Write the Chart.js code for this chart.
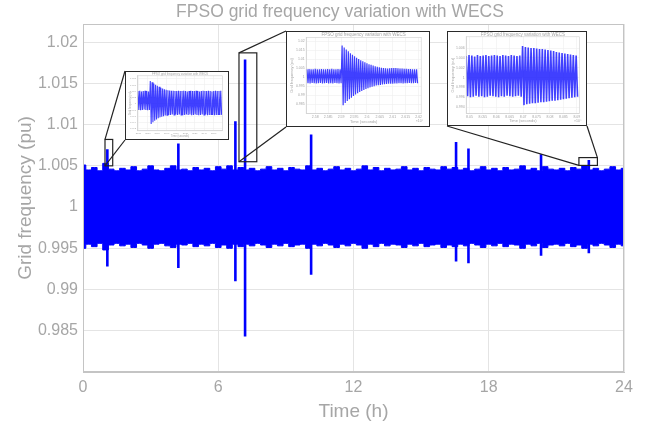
<!DOCTYPE html>
<html>
<head>
<meta charset="utf-8">
<script src="https://cdn.jsdelivr.net/npm/chart.js@4.4.1/dist/chart.umd.min.js"></script>
<style>
  html, body { margin: 0; padding: 0; background: #fff; }
  #wrap { position: relative; width: 649px; height: 427px; }
  #main { position: absolute; left: 0; top: 0; }
  .inset { position: absolute; background: #fff; border: 1.5px solid #2a2a2a; box-sizing: border-box; }
  .inset canvas { display: block; }
</style>
</head>
<body>
<div id="wrap">
  <canvas id="main" width="649" height="427"></canvas>
</div>
<script>
const GRAY = '#a6a6a6';
const FONT = '"Liberation Sans", Arial, Helvetica, sans-serif';
const BLUE = '#0000ff';

// ---- main plot: 24 h of grid frequency (pu) ----
const hourStep = 0.25;
const upperEnv = [
  1.0051, 1.0045, 1.0048, 1.0044, 1.0053, 1.0046, 1.0044, 1.0047,
  1.0045, 1.0049, 1.0044, 1.0046, 1.0050, 1.0045, 1.0044, 1.0047,
  1.0050, 1.0045, 1.0046, 1.0044, 1.0048, 1.0045, 1.0047, 1.0044,
  1.0049, 1.0046, 1.0050, 1.0045, 1.0048, 1.0045, 1.0047, 1.0044,
  1.0046, 1.0049, 1.0045, 1.0047, 1.0044, 1.0048, 1.0046, 1.0045,
  1.0050, 1.0045, 1.0047, 1.0044, 1.0046, 1.0049, 1.0045, 1.0047,
  1.0044, 1.0046, 1.0050, 1.0045, 1.0048, 1.0044, 1.0047, 1.0045,
  1.0046, 1.0049, 1.0045, 1.0047, 1.0044, 1.0048, 1.0046, 1.0045,
  1.0049, 1.0046, 1.0048, 1.0045, 1.0047, 1.0044, 1.0046, 1.0049,
  1.0045, 1.0047, 1.0044, 1.0048, 1.0045, 1.0046, 1.0050, 1.0045,
  1.0047, 1.0044, 1.0049, 1.0046, 1.0045, 1.0047, 1.0044, 1.0048,
  1.0046, 1.0050, 1.0045, 1.0047, 1.0044, 1.0046, 1.0049, 1.0045,
  1.0047
];
const lowerEnv = [
  0.9950, 0.9955, 0.9952, 0.9956, 0.9948, 0.9954, 0.9956, 0.9953,
  0.9955, 0.9951, 0.9956, 0.9954, 0.9950, 0.9955, 0.9956, 0.9953,
  0.9951, 0.9955, 0.9954, 0.9956, 0.9952, 0.9955, 0.9953, 0.9956,
  0.9951, 0.9954, 0.9950, 0.9955, 0.9952, 0.9955, 0.9953, 0.9956,
  0.9954, 0.9951, 0.9955, 0.9953, 0.9956, 0.9952, 0.9954, 0.9955,
  0.9950, 0.9955, 0.9953, 0.9956, 0.9954, 0.9951, 0.9955, 0.9953,
  0.9956, 0.9954, 0.9950, 0.9955, 0.9952, 0.9956, 0.9953, 0.9955,
  0.9954, 0.9951, 0.9955, 0.9953, 0.9956, 0.9952, 0.9954, 0.9955,
  0.9951, 0.9954, 0.9952, 0.9955, 0.9953, 0.9956, 0.9954, 0.9951,
  0.9955, 0.9953, 0.9956, 0.9952, 0.9955, 0.9954, 0.9950, 0.9955,
  0.9953, 0.9956, 0.9951, 0.9954, 0.9955, 0.9953, 0.9956, 0.9952,
  0.9954, 0.9950, 0.9955, 0.9953, 0.9956, 0.9954, 0.9951, 0.9955,
  0.9953
];
const spikeHours = [1.08, 4.23, 6.76, 7.19, 10.12, 16.55, 17.10, 20.32, 22.44];
const spikeHigh  = [1.0070, 1.0077, 1.0104, 1.0179, 1.0088, 1.0079, 1.0071, 1.0064, 1.0057];
const spikeLow   = [0.9928, 0.9926, 0.9910, 0.9843, 0.9918, 0.9934, 0.9932, 0.9941, 0.9944];
const xTicks = [0, 6, 12, 18, 24];
const yTicks = [0.985, 0.99, 0.995, 1, 1.005, 1.01, 1.015, 1.02];

// zoomed windows (data units) and which corners link to the inset boxes
const zoomWins = [
  { t0: 0.976, t1: 1.318, lo: 1.0050, hi: 1.0082, links: [['TL', 'TL'], ['BL', 'BL']] },
  { t0: 6.92,  t1: 7.71,  lo: 1.0055, hi: 1.0187, links: [['TL', 'TL'], ['BL', 'BL']] },
  { t0: 22.0,  t1: 22.82, lo: 1.00505, hi: 1.0060, links: [['BL', 'BL'], ['TR', 'BR']] }
];

// ---- inset plots: peak / trough of each oscillation cycle ----
const inset1Peaks = [
  1.0040, 1.0041, 1.0039, 1.0040, 1.0041, 1.0040, 1.0039,
  1.0072, 1.0068, 1.0064, 1.0060, 1.0057, 1.0054, 1.0051, 1.0048,
  1.0046, 1.0044, 1.0043, 1.0042, 1.0041, 1.0041, 1.0040, 1.0040,
  1.0041, 1.0040, 1.0040, 1.0041, 1.0040, 1.0039, 1.0040, 1.0041,
  1.0040, 1.0040, 1.0041, 1.0040, 1.0039, 1.0040, 1.0041, 1.0040,
  1.0040, 1.0041, 1.0040, 1.0039, 1.0040, 1.0041, 1.0040, 1.0040,
  1.0041
];
const inset1Troughs = [
  0.9980, 0.9979, 0.9980, 0.9981, 0.9980, 0.9979, 0.9980,
  0.9935, 0.9940, 0.9945, 0.9949, 0.9953, 0.9956, 0.9958, 0.9960,
  0.9962, 0.9963, 0.9964, 0.9964, 0.9965, 0.9964, 0.9965, 0.9964,
  0.9965, 0.9964, 0.9963, 0.9964, 0.9965, 0.9964, 0.9965, 0.9963,
  0.9964, 0.9965, 0.9964, 0.9963, 0.9964, 0.9965, 0.9964, 0.9965,
  0.9963, 0.9964, 0.9965, 0.9964, 0.9963, 0.9964, 0.9965, 0.9964,
  0.9964
];
const inset1XTicks = [3870, 3880, 3890, 3900, 3910, 3920, 3930, 3940, 3950];
const inset1YTicks = [0.992, 0.994, 0.996, 0.998, 1, 1.002, 1.004, 1.006, 1.008];

const inset2Peaks = [
  1.0046, 1.0047, 1.0045, 1.0046, 1.0048, 1.0046, 1.0045, 1.0047,
  1.0046, 1.0045, 1.0047, 1.0046, 1.0048, 1.0046, 1.0045, 1.0047, 1.0046,
  1.0178, 1.0166, 1.0155, 1.0145, 1.0135, 1.0126, 1.0118, 1.0110,
  1.0103, 1.0096, 1.0090, 1.0084, 1.0079, 1.0074, 1.0070, 1.0066,
  1.0062, 1.0059, 1.0056, 1.0054, 1.0052, 1.0051, 1.0050, 1.0051,
  1.0052, 1.0053, 1.0052, 1.0051, 1.0050, 1.0049, 1.0048, 1.0048,
  1.0047, 1.0047, 1.0046, 1.0046, 1.0046
];
const inset2Troughs = [
  0.9968, 0.9967, 0.9969, 0.9968, 0.9967, 0.9968, 0.9969, 0.9967,
  0.9968, 0.9969, 0.9967, 0.9968, 0.9967, 0.9969, 0.9968, 0.9967, 0.9968,
  0.9846, 0.9858, 0.9869, 0.9879, 0.9888, 0.9897, 0.9905, 0.9912,
  0.9919, 0.9925, 0.9931, 0.9936, 0.9941, 0.9945, 0.9949, 0.9952,
  0.9955, 0.9957, 0.9959, 0.9961, 0.9963, 0.9964, 0.9965, 0.9966,
  0.9966, 0.9967, 0.9967, 0.9968, 0.9968, 0.9967, 0.9968, 0.9968,
  0.9969, 0.9968, 0.9968, 0.9969, 0.9968
];
const inset2XTicks = [2.58, 2.585, 2.59, 2.595, 2.6, 2.605, 2.61, 2.615, 2.62];

const inset3Peaks = [
  1.0044, 1.0046, 1.0045, 1.0043, 1.0046, 1.0044, 1.0045, 1.0046, 1.0044, 1.0045,
  1.0046, 1.0045, 1.0044, 1.0046, 1.0045, 1.0044, 1.0046, 1.0045, 1.0044, 1.0045,
  1.0064, 1.0062, 1.0061, 1.0060, 1.0060, 1.0059, 1.0058, 1.0058, 1.0057, 1.0056,
  1.0055, 1.0054, 1.0052, 1.0051, 1.0050, 1.0049, 1.0048, 1.0047, 1.0046, 1.0045
];
const inset3Troughs = [
  0.9962, 0.9960, 0.9961, 0.9963, 0.9961, 0.9962, 0.9960, 0.9961, 0.9963, 0.9962,
  0.9961, 0.9960, 0.9962, 0.9961, 0.9963, 0.9962, 0.9961, 0.9962, 0.9963, 0.9961,
  0.9944, 0.9946, 0.9947, 0.9948, 0.9948, 0.9949, 0.9950, 0.9950, 0.9951, 0.9952,
  0.9953, 0.9953, 0.9954, 0.9955, 0.9956, 0.9957, 0.9958, 0.9959, 0.9960, 0.9961
];
const inset3XTicks = [8.05, 8.055, 8.06, 8.065, 8.07, 8.075, 8.08, 8.085, 8.09];
const inset3YTicks = [0.994, 0.996, 0.998, 1, 1.002, 1.004, 1.006];

const TITLE = 'FPSO grid frequency variation with WECS';
const fmt = v => String(Number(v.toFixed(4)));

// inset boxes on the page (outer border box)
const insetBoxes = [
  { left: 125, top: 71, width: 104, height: 69 },
  { left: 286, top: 31, width: 144, height: 96 },
  { left: 447, top: 31, width: 140, height: 95 }
];

// ---------------- main chart ----------------
const envHours = upperEnv.map((_, i) => i * hourStep);
const spikePts = [];
spikeHours.forEach((t, i) => {
  spikePts.push({ x: t, y: spikeLow[i] }, { x: t, y: spikeHigh[i] }, { x: t, y: null });
});

const mainDecor = {
  id: 'mainDecor',
  afterDraw(chart) {
    const { ctx, chartArea: a, scales: { x, y } } = chart;
    ctx.save();
    ctx.strokeStyle = '#c4c4c4';
    ctx.lineWidth = 1;
    ctx.strokeRect(a.left + 0.5, a.top + 0.5, a.right - a.left - 1, a.bottom - a.top - 1);

    ctx.strokeStyle = '#222';
    ctx.lineWidth = 1.2;
    zoomWins.forEach((w, i) => {
      const l = x.getPixelForValue(w.t0), r = x.getPixelForValue(w.t1);
      const tp = y.getPixelForValue(w.hi), bt = y.getPixelForValue(w.lo);
      ctx.strokeRect(l, tp, r - l, bt - tp);
      const rc = { TL: [l, tp], BL: [l, bt], TR: [r, tp], BR: [r, bt] };
      const b = insetBoxes[i];
      const ic = {
        TL: [b.left, b.top], BL: [b.left, b.top + b.height],
        TR: [b.left + b.width, b.top], BR: [b.left + b.width, b.top + b.height]
      };
      w.links.forEach(([from, to]) => {
        ctx.beginPath();
        ctx.moveTo(rc[from][0], rc[from][1]);
        ctx.lineTo(ic[to][0], ic[to][1]);
        ctx.stroke();
      });
    });

    ctx.fillStyle = GRAY;
    ctx.font = '17.5px ' + FONT;
    ctx.textAlign = 'center';
    ctx.textBaseline = 'middle';
    ctx.fillText(TITLE, 340, 12);
    ctx.restore();
  }
};

new Chart(document.getElementById('main'), {
  type: 'line',
  data: {
    datasets: [
      {
        data: envHours.map((t, i) => ({ x: t, y: lowerEnv[i] })),
        borderColor: BLUE, backgroundColor: BLUE, borderWidth: 1,
        pointRadius: 0, stepped: 'middle', fill: false
      },
      {
        data: envHours.map((t, i) => ({ x: t, y: upperEnv[i] })),
        borderColor: BLUE, backgroundColor: BLUE, borderWidth: 1,
        pointRadius: 0, stepped: 'middle', fill: '-1'
      },
      {
        data: spikePts,
        borderColor: BLUE, borderWidth: 2.6, pointRadius: 0,
        spanGaps: false, fill: false
      }
    ]
  },
  options: {
    responsive: false,
    animation: false,
    devicePixelRatio: 1,
    layout: { padding: { left: 0, right: 25, top: 24, bottom: 0 } },
    plugins: { legend: { display: false }, tooltip: { enabled: false } },
    scales: {
      x: {
        type: 'linear', min: 0, max: 24,
        afterBuildTicks: s => { s.ticks = xTicks.map(v => ({ value: v })); },
        afterFit: s => { s.height = 55; },
        ticks: { color: GRAY, font: { family: FONT, size: 16 }, padding: 6, maxRotation: 0, autoSkip: false },
        grid: { color: '#e4e4e4', drawTicks: false },
        border: { color: '#c4c4c4' },
        title: { display: true, text: 'Time (h)', color: GRAY, font: { family: FONT, size: 19 }, padding: { top: 0, bottom: 4 } }
      },
      y: {
        type: 'linear', min: 0.98, max: 1.0222,
        afterBuildTicks: s => { s.ticks = yTicks.map(v => ({ value: v })); },
        afterFit: s => { s.width = 83; },
        ticks: { color: GRAY, font: { family: FONT, size: 16 }, padding: 5, autoSkip: false, callback: v => fmt(v) },
        grid: { color: '#e4e4e4', drawTicks: false },
        border: { color: '#c4c4c4' },
        title: { display: true, text: 'Grid frequency (pu)', color: GRAY, font: { family: FONT, size: 19 }, padding: { top: 14, bottom: 0 } }
      }
    }
  },
  plugins: [mainDecor]
});

// ---------------- insets ----------------
function makeInset(box, o) {
  const div = document.createElement('div');
  div.className = 'inset';
  Object.assign(div.style, { left: box.left + 'px', top: box.top + 'px', width: box.width + 'px', height: box.height + 'px' });
  const cv = document.createElement('canvas');
  cv.width = box.width - 3;
  cv.height = box.height - 3;
  div.appendChild(cv);
  document.getElementById('wrap').appendChild(div);

  const pts = [];
  o.peaks.forEach((p, i) => {
    const t = o.t0 + i * o.dt;
    pts.push({ x: t, y: p }, { x: t + o.dt / 2, y: o.troughs[i] });
  });

  const deco = {
    id: 'insetDeco',
    afterDraw(chart) {
      const { ctx, chartArea: a } = chart;
      ctx.save();
      ctx.strokeStyle = '#cfcfcf';
      ctx.lineWidth = 0.6;
      ctx.strokeRect(a.left, a.top, a.right - a.left, a.bottom - a.top);
      ctx.fillStyle = GRAY;
      ctx.textAlign = 'center';
      ctx.textBaseline = 'middle';
      ctx.font = o.titleSize + 'px ' + FONT;
      ctx.fillText(TITLE, (a.left + a.right) / 2, a.top - o.titleSize * 0.55);
      if (o.exp) {
        ctx.font = o.tickSize + 'px ' + FONT;
        ctx.textAlign = 'right';
        ctx.fillText(o.exp, a.right + 2, a.bottom + o.tickSize * 2.2);
      }
      ctx.restore();
    }
  };

  new Chart(cv, {
    type: 'line',
    data: {
      datasets: [{
        data: pts, borderColor: 'rgba(30,30,255,0.85)', borderWidth: o.lw,
        pointRadius: 0, tension: 0, fill: false
      }]
    },
    options: {
      responsive: false,
      animation: false,
      devicePixelRatio: 1,
      layout: { padding: { left: 0, right: o.padR, top: o.padT, bottom: 0 } },
      plugins: { legend: { display: false }, tooltip: { enabled: false } },
      scales: {
        x: {
          type: 'linear', min: o.xmin, max: o.xmax,
          afterBuildTicks: s => { s.ticks = o.xTicks.map(v => ({ value: v })); },
          afterFit: s => { s.height = o.padB; },
          ticks: { color: GRAY, font: { family: FONT, size: o.tickSize }, padding: 1.5, maxRotation: 0, autoSkip: false, callback: v => fmt(v) },
          grid: { color: '#eeeeee', lineWidth: 0.6, drawTicks: false },
          border: { color: '#cfcfcf', width: 0.6 },
          title: { display: true, text: 'Time (seconds)', color: GRAY, font: { family: FONT, size: o.labelSize }, padding: { top: 0, bottom: 0.5 } }
        },
        y: {
          type: 'linear', min: o.ymin, max: o.ymax,
          afterBuildTicks: s => { s.ticks = o.yTicks.map(v => ({ value: v })); },
          afterFit: s => { s.width = o.padL; },
          ticks: { color: GRAY, font: { family: FONT, size: o.tickSize }, padding: 1.5, autoSkip: false, callback: v => fmt(v) },
          grid: { color: '#eeeeee', lineWidth: 0.6, drawTicks: false },
          border: { color: '#cfcfcf', width: 0.6 },
          title: { display: true, text: 'Grid frequency (pu)', color: GRAY, font: { family: FONT, size: o.labelSize }, padding: { top: 2.5, bottom: 0 } }
        }
      }
    },
    plugins: [deco]
  });
}

makeInset(insetBoxes[0], {
  peaks: inset1Peaks, troughs: inset1Troughs, t0: 3869.5, dt: 1.875,
  xmin: 3869, xmax: 3959.5, ymin: 0.9913, ymax: 1.0089,
  xTicks: inset1XTicks, yTicks: inset1YTicks,
  padL: 11.5, padR: 4.5, padT: 3.8, padB: 7.2,
  tickSize: 2.4, labelSize: 2.7, titleSize: 3, lw: 1.1, exp: null
});
makeInset(insetBoxes[1], {
  peaks: inset2Peaks, troughs: inset2Troughs, t0: 2.5768, dt: 0.0008,
  xmin: 2.5765, xmax: 2.621, ymin: 0.98, ymax: 1.0222,
  xTicks: inset2XTicks, yTicks: yTicks,
  padL: 19.2, padR: 6.8, padT: 5.5, padB: 11.5,
  tickSize: 3.5, labelSize: 4, titleSize: 4.5, lw: 1.2, exp: '×10⁴'
});
makeInset(insetBoxes[2], {
  peaks: inset3Peaks, troughs: inset3Troughs, t0: 8.0488, dt: 0.00105,
  xmin: 8.0488, xmax: 8.091, ymin: 0.9927, ymax: 1.0083,
  xTicks: inset3XTicks, yTicks: inset3YTicks,
  padL: 18.2, padR: 5.5, padT: 4.8, padB: 10.5,
  tickSize: 3.5, labelSize: 4, titleSize: 4.5, lw: 1.6, exp: '×10⁴'
});
</script>
</body>
</html>
